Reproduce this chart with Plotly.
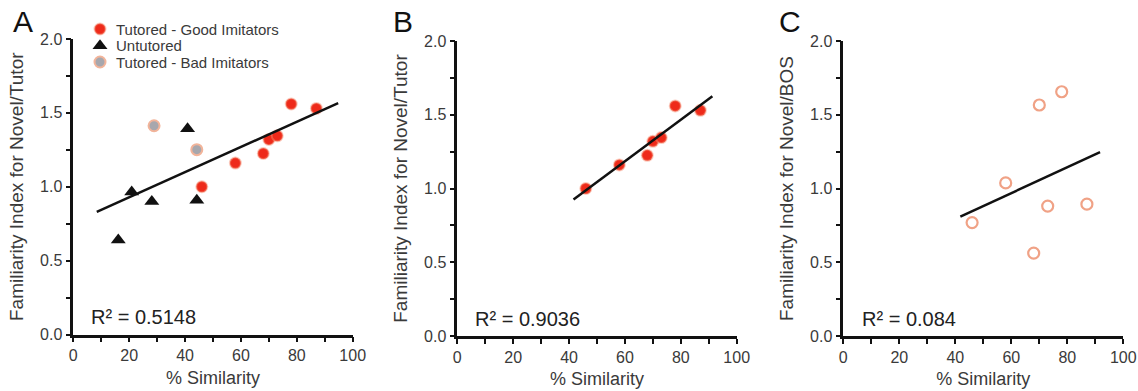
import plotly.graph_objects as go

# ---------------- data ----------------
good_x = [46, 58, 68, 70, 73, 78, 87]
good_y = [1.00, 1.16, 1.225, 1.32, 1.345, 1.56, 1.53]

untut_x = [16.1, 20.9, 28.1, 40.9, 44.2]
untut_y = [0.64, 0.965, 0.90, 1.393, 0.909]

bad_x = [28.9, 44.2]
bad_y = [1.413, 1.251]

bos_x = [46, 58, 68, 70, 73, 78, 87]
bos_y = [0.769, 1.038, 0.562, 1.566, 0.881, 1.656, 0.894]

fitA_x = [8.4, 94.8]
fitA_y = [0.83, 1.566]
fitB_x = [41.6, 91.3]
fitB_y = [0.926, 1.625]
fitC_x = [41.8, 91.7]
fitC_y = [0.809, 1.247]

legend_labels = ["Tutored - Good Imitators", "Untutored", "Tutored - Bad Imitators"]
r2_labels = ["R² = 0.5148", "R² = 0.9036", "R² = 0.084"]
panel_letters = ["A", "B", "C"]
y_titles = ["Familiarity Index for Novel/Tutor",
            "Familiarity Index for Novel/Tutor",
            "Familiarity Index for Novel/BOS"]
x_title = "% Similarity"

x_tickvals = [0, 10, 20, 30, 40, 50, 60, 70, 80, 90, 100]
x_ticktext = ["0", "", "20", "", "40", "", "60", "", "80", "", "100"]
y_tickvals = [0, 0.25, 0.5, 0.75, 1.0, 1.25, 1.5, 1.75, 2.0]
y_ticktext = ["0.0", "", "0.5", "", "1.0", "", "1.5", "", "2.0"]

# ---------------- style ----------------
W, H = 1138, 391
FONT = "Liberation Sans, Arial, sans-serif"
RED = "#EE2A1A"
HALO = "rgba(245,140,110,0.45)"
GRAY = "#A7A7AD"
GRAY_EDGE = "#F2B49A"
SALMON = "#F0A286"
INK = "#111111"
TXT = "#3a3a3a"

x_doms = [[73.3 / W, 352.7 / W], [457.3 / W, 736.7 / W], [843.3 / W, 1123.3 / W]]
y_doms = [[(H - 334.5) / H, (H - 39) / H], [(H - 336) / H, (H - 41) / H], [(H - 336) / H, (H - 41) / H]]
letter_x = [23, 403, 790]
r2_x = [5.6, 5.6, 6.0]

# legend layout (pixel positions in a hidden overlay axis)
leg_marker_x = 100
leg_text_x = 114
leg_rows_y = [29, 45.7, 62]

good_marker = dict(symbol="circle", size=11, color=RED, line=dict(color=HALO, width=2))
untut_marker = dict(symbol="triangle-up", size=13, color=INK, line=dict(width=0))
bad_marker = dict(symbol="circle", size=11, color=GRAY, line=dict(color=GRAY_EDGE, width=2))

fig = go.Figure()

# Panel A
fig.add_trace(go.Scatter(x=good_x, y=good_y, mode="markers", name=legend_labels[0],
                         marker=good_marker, xaxis="x", yaxis="y", showlegend=False))
fig.add_trace(go.Scatter(x=untut_x, y=untut_y, mode="markers", name=legend_labels[1],
                         marker=untut_marker, xaxis="x", yaxis="y", showlegend=False))
fig.add_trace(go.Scatter(x=bad_x, y=bad_y, mode="markers", name=legend_labels[2],
                         marker=bad_marker, xaxis="x", yaxis="y", showlegend=False))
fig.add_trace(go.Scatter(x=fitA_x, y=fitA_y, mode="lines", line=dict(color=INK, width=2.5),
                         xaxis="x", yaxis="y", showlegend=False))

# Panel B
fig.add_trace(go.Scatter(x=good_x, y=good_y, mode="markers", marker=good_marker,
                         xaxis="x2", yaxis="y2", showlegend=False))
fig.add_trace(go.Scatter(x=fitB_x, y=fitB_y, mode="lines", line=dict(color=INK, width=2.5),
                         xaxis="x2", yaxis="y2", showlegend=False))

# Panel C
fig.add_trace(go.Scatter(x=bos_x, y=bos_y, mode="markers",
                         marker=dict(symbol="circle-open", size=11, color=SALMON,
                                     line=dict(color=SALMON, width=2.2)),
                         xaxis="x3", yaxis="y3", showlegend=False))
fig.add_trace(go.Scatter(x=fitC_x, y=fitC_y, mode="lines", line=dict(color=INK, width=2.5),
                         xaxis="x3", yaxis="y3", showlegend=False))

# legend swatches (hidden overlay axis in pixel units)
for mk, ry in zip([good_marker, untut_marker, bad_marker], leg_rows_y):
    fig.add_trace(go.Scatter(x=[leg_marker_x], y=[ry], mode="markers", marker=mk,
                             xaxis="x4", yaxis="y4", showlegend=False, hoverinfo="skip"))

axis_common = dict(showgrid=False, zeroline=False, showline=True, linecolor=INK, linewidth=2.5,
                   ticks="outside", ticklen=5, tickwidth=2, tickcolor=INK, automargin=False,
                   tickfont=dict(family=FONT, size=16, color=TXT))

layout = dict(width=W, height=H, margin=dict(l=0, r=0, t=0, b=0),
              paper_bgcolor="white", plot_bgcolor="rgba(0,0,0,0)",
              font=dict(family=FONT, color="#222222"), showlegend=False,
              xaxis4=dict(domain=[0, 1], range=[0, W], visible=False, fixedrange=True, anchor="y4"),
              yaxis4=dict(domain=[0, 1], range=[H, 0], visible=False, fixedrange=True, anchor="x4"))

annotations = []
for i in range(3):
    sx = "" if i == 0 else str(i + 1)
    layout["xaxis" + sx] = dict(axis_common, domain=x_doms[i], range=[0, 100],
                                tickmode="array", tickvals=x_tickvals, ticktext=x_ticktext,
                                anchor="y" + sx,
                                title=dict(text=x_title, font=dict(family=FONT, size=18, color=TXT),
                                           standoff=8))
    layout["yaxis" + sx] = dict(axis_common, domain=y_doms[i], range=[0, 2.0],
                                tickmode="array", tickvals=y_tickvals, ticktext=y_ticktext,
                                anchor="x" + sx,
                                title=dict(text=y_titles[i], font=dict(family=FONT, size=19, color=TXT),
                                           standoff=12))
    annotations.append(dict(text=r2_labels[i], x=r2_x[i], y=0.118, xref="x" + sx, yref="y" + sx,
                            xanchor="left", yanchor="middle", showarrow=False,
                            font=dict(family=FONT, size=20, color="#222222")))
    annotations.append(dict(text=panel_letters[i], x=letter_x[i] / W, y=(H - 22) / H,
                            xref="paper", yref="paper", xanchor="center", yanchor="middle",
                            showarrow=False, font=dict(family=FONT, size=30, color=INK)))

for lab, ry in zip(legend_labels, leg_rows_y):
    annotations.append(dict(text=lab, x=leg_text_x, y=ry, xref="x4", yref="y4",
                            xanchor="left", yanchor="middle", showarrow=False,
                            font=dict(family=FONT, size=15, color=TXT)))

layout["annotations"] = annotations
fig.update_layout(**layout)
fig.write_html("out.html", config={"displayModeBar": False},
               post_script="document.body.style.margin='0';document.body.style.overflow='hidden';")
